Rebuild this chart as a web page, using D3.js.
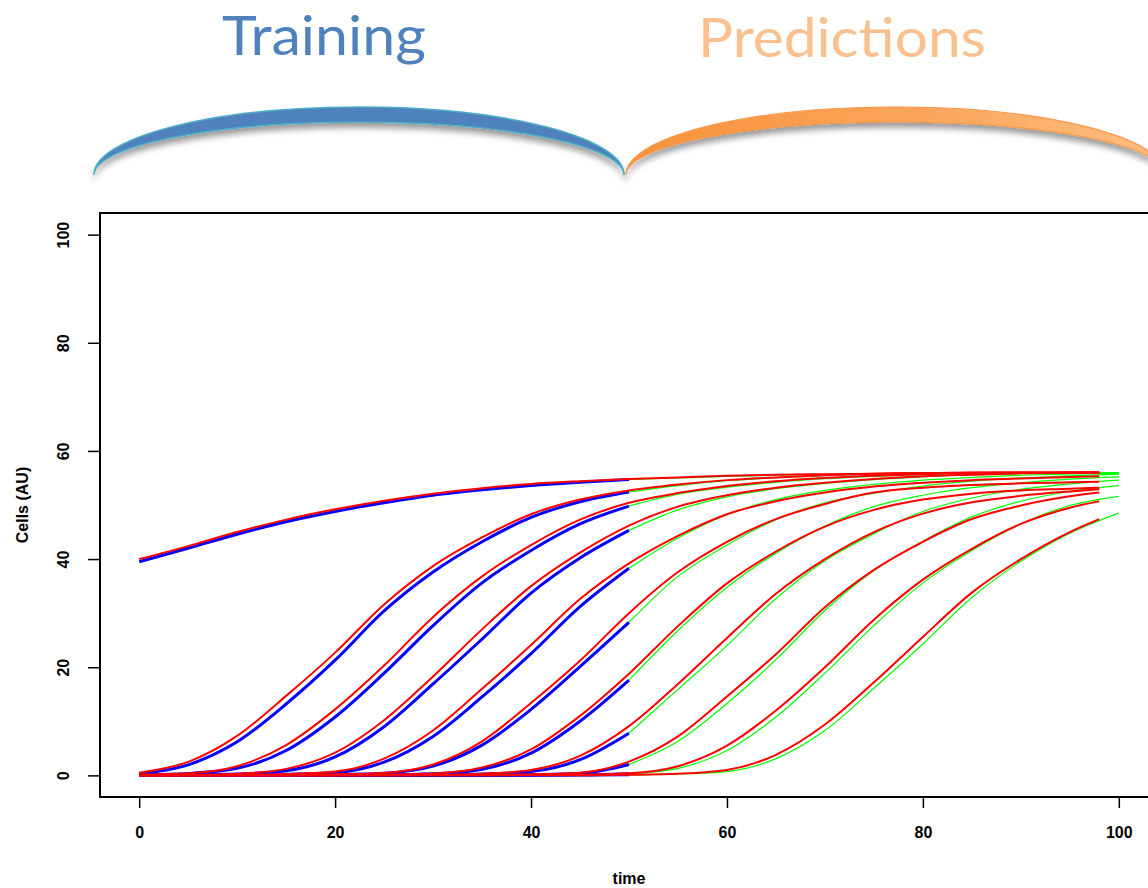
<!DOCTYPE html>
<html>
<head>
<meta charset="utf-8">
<script src="https://cdn.jsdelivr.net/npm/d3@7"></script>
<style>
  html, body { margin: 0; padding: 0; background: #fff; }
  svg { display: block; }
</style>
</head>
<body>
<svg id="chart" width="1148" height="888"></svg>
<script>
// ---- data -------------------------------------------------------------
// Sampling times (time units) for each kind of trace
const fitTimes = [0,5,10,15,20,25,30,35,40,45,50,55,60,65,70,75,80,85,90,95,98];
const trainTimes = [0,5,10,15,20,25,30,35,40,45,50];
const heldOutTimes = [50,55,60,65,70,75,80,85,90,95,100];

// Model fits (red), one row per culture
const fitCurves = [
  [40.0,42.4,45.0,47.3,49.2,50.8,52.1,53.1,53.9,54.4,54.8,55.1,55.4,55.6,55.7,55.8,55.9,55.95,56.0,56.0,56.0],
  [0.5,2.5,7.3,14.7,22.7,31.6,38.7,44.0,48.3,51.0,52.7,53.8,54.6,55.1,55.5,55.8,55.9,56.0,56.0,56.0,56.0],
  [0.15,0.4,1.7,5.6,12.2,20.3,29.3,36.8,42.6,47.3,50.4,52.2,53.5,54.4,55.0,55.4,55.7,55.9,55.95,56.0,56.0],
  [0.05,0.1,0.3,1.2,4.2,10.2,18.3,27.0,35.0,41.2,46.2,49.7,51.8,53.2,54.1,54.8,55.3,55.6,55.85,55.95,56.0],
  [0.02,0.05,0.07,0.25,0.7,3.1,8.3,16.0,24.1,32.6,39.2,44.3,48.3,50.7,52.3,53.4,54.1,54.6,54.9,55.2,55.3],
  [0,0.02,0.05,0.1,0.2,0.45,2.0,6.3,13.4,21.2,30.0,37.6,43.2,47.4,50.2,52.3,53.2,53.7,54.0,54.2,54.3],
  [0,0,0.02,0.04,0.08,0.15,0.35,1.45,4.8,11.0,18.8,27.6,35.5,41.4,46.0,49.1,51.0,52.1,52.7,53.0,53.2],
  [0,0,0,0.02,0.03,0.05,0.1,0.3,1.0,3.6,9.1,16.9,25.4,33.6,40.0,45.0,48.4,50.5,51.7,52.5,52.9],
  [0,0,0,0,0,0.02,0.05,0.1,0.2,0.5,2.55,7.2,14.6,22.4,31.1,38.0,43.2,47.4,49.9,51.6,52.3],
  [0,0,0,0,0,0,0,0.03,0.07,0.15,0.4,1.7,5.5,12.0,20.0,28.8,36.2,41.9,46.5,49.5,50.7],
  [0,0,0,0,0,0,0,0,0,0.03,0.1,0.3,1.0,3.8,9.4,17.2,25.6,33.8,40.0,45.0,47.4]
];

// Training observations (blue), t = 0..50
const trainCurves = [
  [39.5,42.0,44.6,46.9,48.8,50.4,51.8,52.8,53.6,54.2,54.7],
  [0.3,1.95,6.2,13.2,21.3,30.4,37.6,43.2,47.7,50.6,52.4],
  [0.1,0.35,1.3,4.6,10.8,18.9,27.7,35.6,41.6,46.5,49.8],
  [0.03,0.08,0.25,0.85,3.4,9.0,16.9,25.2,33.7,40.2,45.3],
  [0.02,0.03,0.06,0.2,0.5,2.45,7.2,14.5,22.5,31.2,38.3],
  [0,0.01,0.03,0.08,0.15,0.4,1.7,5.6,12.2,20.1,28.3],
  [0,0,0.01,0.03,0.06,0.1,0.3,1.15,4.1,10.0,17.6],
  [0,0,0,0.01,0.02,0.05,0.1,0.25,0.7,2.9,7.8],
  [0,0,0,0,0,0.02,0.04,0.08,0.15,0.35,2.0],
  [0,0,0,0,0,0,0,0.02,0.05,0.1,0.3],
  [0,0,0,0,0,0,0,0,0.02,0.05,0.1]
];

// Held-out observations (green), t = 50..100
const heldOutCurves = [
  [54.7,55.0,55.3,55.5,55.7,55.8,55.9,56.0,56.0,56.0,56.0],
  [52.4,53.6,54.5,55.05,55.45,55.75,55.9,56.0,56.0,56.0,56.0],
  [49.8,52.0,53.3,54.2,54.85,55.3,55.65,55.85,55.95,56.0,56.0],
  [45.3,49.1,51.5,53.0,54.0,54.7,55.2,55.6,55.8,55.95,56.0],
  [38.3,43.9,48.2,51.0,52.7,53.8,54.6,55.1,55.5,55.75,55.85],
  [28.3,36.8,42.6,47.3,50.4,52.2,53.5,54.4,55.0,55.4,55.7],
  [17.6,26.8,34.8,41.1,46.1,49.7,51.8,53.2,54.1,54.8,55.2],
  [7.8,15.9,24.0,32.7,39.7,44.7,48.8,51.3,52.9,53.9,54.6],
  [2.0,6.3,13.3,21.4,30.5,37.9,43.3,47.8,50.7,52.5,53.6],
  [0.3,1.3,4.6,10.8,18.9,27.7,35.6,41.6,46.5,49.9,51.6],
  [0.1,0.25,0.7,3.1,8.3,16.1,24.3,32.9,39.6,44.8,48.5]
];

const xTicks = [0,20,40,60,80,100];
const yTicks = [0,20,40,60,80,100];
const phaseLabels = ["Training", "Predictions"];

// ---- layout -----------------------------------------------------------
const svg = d3.select("#chart");
const plot = { left: 100, right: 1158, top: 213, bottom: 797 };

const x = d3.scaleLinear().domain([-4, 104]).range([plot.left, plot.right]);
const y = d3.scaleLinear().domain([-4, 104]).range([plot.bottom, plot.top]);

const defs = svg.append("defs");

// soft shadow under the phase braces
const shadow = defs.append("filter").attr("id", "braceShadow")
  .attr("x", "-5%").attr("y", "-30%").attr("width", "110%").attr("height", "180%");
shadow.append("feDropShadow")
  .attr("dx", 0).attr("dy", 5).attr("stdDeviation", 3)
  .attr("flood-color", "#000").attr("flood-opacity", 0.4);

const orangeGrad = defs.append("linearGradient").attr("id", "orangeGrad")
  .attr("x1", "0%").attr("x2", "100%").attr("y1", "0%").attr("y2", "0%");
orangeGrad.append("stop").attr("offset", "0%").attr("stop-color", "#F7923A");
orangeGrad.append("stop").attr("offset", "55%").attr("stop-color", "#FBA55C");
orangeGrad.append("stop").attr("offset", "100%").attr("stop-color", "#FDBE80");

// ---- header: phase labels and braces -----------------------------------
function crescent(x0, x1, baseY, outerRy, innerRy) {
  const rx = (x1 - x0) / 2;
  return `M${x0},${baseY} A${rx},${outerRy} 0 0 1 ${x1},${baseY} ` +
         `A${rx},${innerRy} 0 0 0 ${x0},${baseY} Z`;
}

const header = svg.append("g");
header.append("path")
  .attr("d", crescent(94, 624, 175, 68, 53))
  .attr("fill", "#4F81BD")
  .attr("stroke", "#4BACC6").attr("stroke-width", 1.5)
  .attr("filter", "url(#braceShadow)");
header.append("path")
  .attr("d", crescent(626, 1166, 175, 68, 53))
  .attr("fill", "url(#orangeGrad)")
  .attr("stroke", "#F79646").attr("stroke-width", 1.2)
  .attr("filter", "url(#braceShadow)");

header.append("text")
  .attr("x", 222).attr("y", 55)
  .attr("textLength", 204).attr("lengthAdjust", "spacingAndGlyphs")
  .attr("font-family", "Lato, 'Open Sans', sans-serif")
  .attr("font-size", 54)
  .attr("fill", "#4F81BD")
  .text(phaseLabels[0]);
header.append("text")
  .attr("x", 698).attr("y", 57)
  .attr("textLength", 288).attr("lengthAdjust", "spacingAndGlyphs")
  .attr("font-family", "Lato, 'Open Sans', sans-serif")
  .attr("font-size", 54)
  .attr("fill", "#FAC08F")
  .text(phaseLabels[1]);

// ---- traces -------------------------------------------------------------
const clip = defs.append("clipPath").attr("id", "plotClip");
clip.append("rect").attr("x", plot.left).attr("y", plot.top)
  .attr("width", plot.right - plot.left).attr("height", plot.bottom - plot.top);

const traces = svg.append("g").attr("clip-path", "url(#plotClip)");

function lineFor(times) {
  return d3.line()
    .x((d, i) => x(times[i]))
    .y(d => y(d))
    .curve(d3.curveMonotoneX);
}

traces.append("g").selectAll("path")
  .data(trainCurves).join("path")
  .attr("d", lineFor(trainTimes))
  .attr("fill", "none").attr("stroke", "#0000FF")
  .attr("stroke-width", 3).attr("stroke-linejoin", "round");

traces.append("g").selectAll("path")
  .data(heldOutCurves).join("path")
  .attr("d", lineFor(heldOutTimes))
  .attr("fill", "none").attr("stroke", "#00FF00")
  .attr("stroke-width", 1.2);

traces.append("g").selectAll("path")
  .data(fitCurves).join("path")
  .attr("d", lineFor(fitTimes))
  .attr("fill", "none").attr("stroke", "#FF0000")
  .attr("stroke-width", 2).attr("stroke-linejoin", "round");

// ---- frame and axes -----------------------------------------------------
svg.append("rect")
  .attr("x", plot.left).attr("y", plot.top)
  .attr("width", plot.right - plot.left).attr("height", plot.bottom - plot.top)
  .attr("fill", "none").attr("stroke", "#000").attr("stroke-width", 2);

const axisFont = "'Liberation Sans', Arial, Helvetica, sans-serif";

const gx = svg.append("g")
  .attr("transform", `translate(0,${plot.bottom})`)
  .call(d3.axisBottom(x).tickValues(xTicks).tickFormat(d3.format("d"))
    .tickSize(11).tickPadding(19));
gx.select(".domain").remove();
gx.selectAll(".tick line").attr("stroke", "#000").attr("stroke-width", 1.5);
gx.selectAll(".tick text")
  .attr("font-family", axisFont).attr("font-weight", "bold")
  .attr("font-size", 16).attr("fill", "#000");

const gy = svg.append("g")
  .attr("transform", `translate(${plot.left},0)`)
  .call(d3.axisLeft(y).tickValues(yTicks).tickFormat(d3.format("d"))
    .tickSize(12).tickPadding(0));
gy.select(".domain").remove();
gy.selectAll(".tick line").attr("stroke", "#000").attr("stroke-width", 1.5);
gy.selectAll(".tick text")
  .attr("x", null).attr("dy", null)
  .attr("text-anchor", "middle")
  .attr("transform", "translate(-31,0) rotate(-90)")
  .attr("font-family", axisFont).attr("font-weight", "bold")
  .attr("font-size", 16).attr("fill", "#000");

svg.append("text")
  .attr("x", (plot.left + plot.right) / 2).attr("y", 884)
  .attr("text-anchor", "middle")
  .attr("font-family", axisFont).attr("font-weight", "bold").attr("font-size", 16)
  .text("time");

svg.append("text")
  .attr("transform", `translate(28,${(plot.top + plot.bottom) / 2}) rotate(-90)`)
  .attr("text-anchor", "middle")
  .attr("font-family", axisFont).attr("font-weight", "bold").attr("font-size", 16)
  .text("Cells (AU)");
</script>
</body>
</html>
